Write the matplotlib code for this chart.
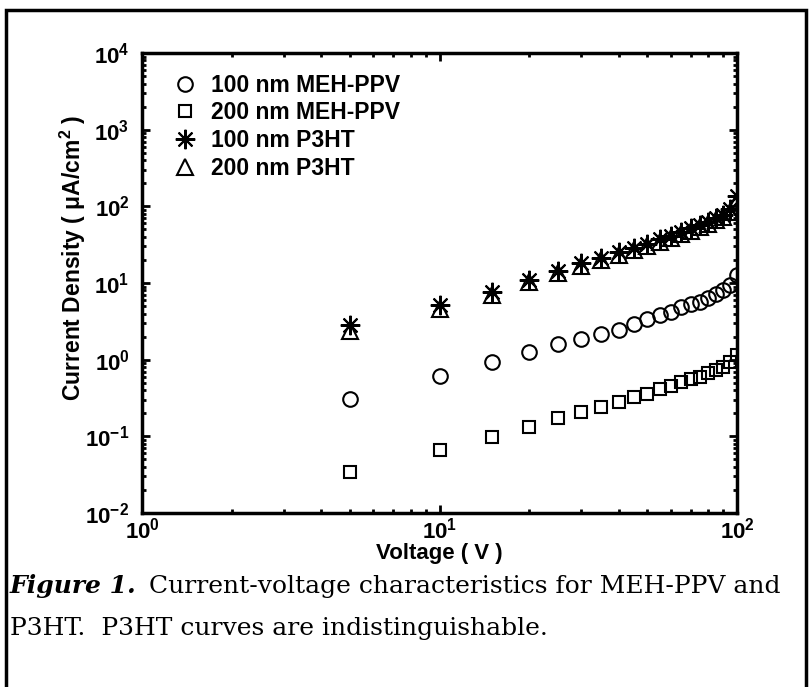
import matplotlib

matplotlib.use("Agg")
import matplotlib.pyplot as plt
from matplotlib.patches import Rectangle
from matplotlib.ticker import LogLocator, FixedLocator, NullFormatter

# voltage points (V)
voltage = [5, 10, 15, 20, 25, 30, 35, 40, 45, 50,
           55, 60, 65, 70, 75, 80, 85, 90, 95, 100]

# current density (uA/cm^2)
meh_100 = [0.31, 0.61, 0.94, 1.27, 1.58, 1.87, 2.17, 2.45, 2.95, 3.4,
           3.84, 4.2, 4.8, 5.3, 5.7, 6.4, 7.2, 8.1, 9.5, 12.8]
meh_200 = [0.034, 0.067, 0.099, 0.134, 0.175, 0.205, 0.243, 0.28, 0.33, 0.36,
           0.416, 0.455, 0.51, 0.56, 0.60, 0.67, 0.73, 0.80, 0.92, 1.15]
p3ht_100 = [2.8, 5.2, 7.6, 10.8, 14.2, 18.0, 21.5, 25.0, 29.0, 32.5,
            37.0, 41.0, 46.0, 52.0, 57.0, 63.0, 70.0, 78.0, 92.0, 135.0]
p3ht_200 = [2.35, 4.6, 7.0, 10.2, 13.5, 16.8, 20.0, 23.5, 27.0, 30.5,
            34.5, 38.5, 43.0, 48.0, 53.0, 59.0, 66.0, 73.0, 85.0, 118.0]

labels = ["100 nm MEH-PPV", "200 nm MEH-PPV", "100 nm P3HT", "200 nm P3HT"]
x_decades = [0, 1, 2]
y_decades = [-2, -1, 0, 1, 2, 3, 4]

plt.rcParams["font.family"] = "Liberation Sans"
plt.rcParams["font.weight"] = "bold"
plt.rcParams["mathtext.fontset"] = "custom"
plt.rcParams["mathtext.rm"] = "Liberation Sans:bold"
plt.rcParams["mathtext.bf"] = "Liberation Sans:bold"
plt.rcParams["mathtext.it"] = "Liberation Sans:bold"

W, H = 809, 687
fig = plt.figure(figsize=(W / 100, H / 100), dpi=100)
ax = fig.add_axes([142 / W, 1 - 513 / H, 595 / W, 460 / H])

mk = dict(linestyle="none", color="black", markerfacecolor="none",
          markeredgewidth=1.5)
ax.plot(voltage, meh_100, marker="o", markersize=10.5, label=labels[0], **mk)
ax.plot(voltage, meh_200, marker="s", markersize=9, label=labels[1], **mk)
ax.plot(voltage, p3ht_100, marker=(8, 2, 0), markersize=14, label=labels[2], **mk)
ax.plot(voltage, p3ht_200, marker="^", markersize=11.5, label=labels[3], **mk)

ax.set_xscale("log")
ax.set_yscale("log")
ax.set_xlim(1, 100)
ax.set_ylim(1e-2, 1e4)

ax.xaxis.set_major_locator(FixedLocator([10.0 ** d for d in x_decades]))
ax.set_xticklabels([r"$10^{%d}$" % d for d in x_decades])
ax.yaxis.set_major_locator(FixedLocator([10.0 ** d for d in y_decades]))
ax.set_yticklabels([r"$10^{%d}$" % d for d in y_decades])
ax.xaxis.set_minor_locator(LogLocator(base=10, subs=range(2, 10), numticks=20))
ax.xaxis.set_minor_formatter(NullFormatter())
ax.yaxis.set_minor_locator(LogLocator(base=10, subs=range(2, 10), numticks=20))
ax.yaxis.set_minor_formatter(NullFormatter())

ax.tick_params(which="both", direction="in", top=True, right=True, width=2)
ax.tick_params(which="major", length=6, labelsize=16)
ax.tick_params(axis="x", which="major", pad=3)
ax.tick_params(axis="y", which="major", pad=9)
ax.tick_params(which="minor", length=3)
for s in ax.spines.values():
    s.set_linewidth(2.5)

ax.set_xlabel("Voltage ( V )", fontsize=16, fontweight="bold")
ax.xaxis.set_label_coords(0.5, -(543 - 513) / 460)
ax.set_ylabel(r"Current Density ( $\mu$A/cm$^2$ )", fontsize=16.5,
              fontweight="bold")
ax.yaxis.set_label_coords((88 - 142) / 595, (513 - 258) / 460)

ax.legend(loc="upper left", bbox_to_anchor=(21 / 595, 1 - 14 / 460),
          frameon=False, fontsize=16.5, handletextpad=0.5, borderaxespad=0,
          labelspacing=0.2, handlelength=1.3, borderpad=0.3)

# figure frame and caption
fig.patches.append(Rectangle((6 / W, -0.01), 800 / W, 1.01 - 10 / H,
                             transform=fig.transFigure, fill=False,
                             edgecolor="black", linewidth=2.5))
cap_y1 = 1 - 586 / H
cap_y2 = 1 - 628 / H
head = fig.text(10 / W, cap_y1, "Figure 1.", fontsize=18, style="italic",
                fontweight="bold", family="DejaVu Serif", va="center")
fig.canvas.draw()
bb = head.get_window_extent(fig.canvas.get_renderer())
fig.text(bb.x1 / fig.bbox.width + 12 / W, cap_y1,
         "Current-voltage characteristics for MEH-PPV and",
         fontsize=18, fontweight="normal", family="DejaVu Serif", va="center")
fig.text(10 / W, cap_y2, "P3HT.  P3HT curves are indistinguishable.",
         fontsize=18, fontweight="normal", family="DejaVu Serif", va="center")

fig.savefig("out.png", dpi=100)
